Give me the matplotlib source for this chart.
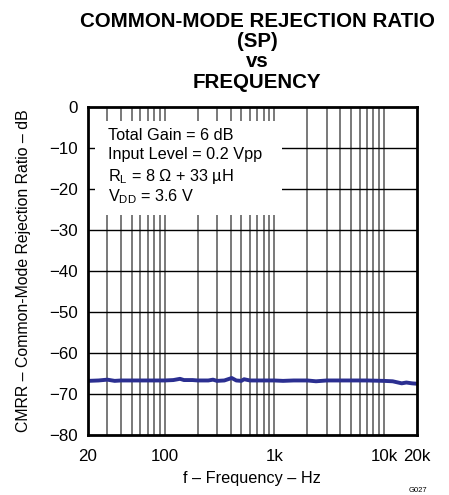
import matplotlib
matplotlib.use("Agg")
import matplotlib.pyplot as plt
from matplotlib.patches import Rectangle
import numpy as np

plt.rcParams['font.family'] = ['Liberation Sans', 'DejaVu Sans']
plt.rcParams['mathtext.fontset'] = 'custom'
plt.rcParams['mathtext.rm'] = 'Liberation Sans'
plt.rcParams['mathtext.it'] = 'Liberation Sans'

freq_hz = [20, 25, 30, 35, 40, 50, 60, 70, 80, 100, 120, 138, 150, 180, 200,
           250, 276, 300, 350, 409, 450, 500, 530, 600, 700, 800, 1000, 1200,
           1500, 2000, 2400, 3000, 4000, 5000, 7000, 10000, 12000, 14500,
           16000, 18000, 20000]
cmrr_db = [-66.8, -66.7, -66.5, -66.8, -66.7, -66.7, -66.7, -66.7, -66.7, -66.7,
           -66.6, -66.3, -66.6, -66.6, -66.7, -66.7, -66.5, -66.8, -66.7, -66.1,
           -66.7, -66.8, -66.4, -66.7, -66.7, -66.7, -66.7, -66.8, -66.7, -66.7,
           -66.9, -66.7, -66.7, -66.7, -66.7, -66.8, -66.9, -67.4, -67.2, -67.4,
           -67.5]

x_ticks = [20, 100, 1000, 10000, 20000]
x_tick_labels = ['20', '100', '1k', '10k', '20k']
y_ticks = [0, -10, -20, -30, -40, -50, -60, -70, -80]
y_tick_labels = ['0', '\u221210', '\u221220', '\u221230', '\u221240', '\u221250',
                 '\u221260', '\u221270', '\u221280']
minor_grid = [30, 40, 50, 60, 70, 80, 90, 200, 300, 400, 500, 600, 700, 800, 900,
              2000, 3000, 4000, 5000, 6000, 7000, 8000, 9000]
major_grid = [100, 1000, 10000]

W, H = 449, 495
fig = plt.figure(figsize=(W / 100, H / 100), dpi=100)
ax = fig.add_axes([88 / W, (H - 435) / H, 329 / W, 328 / H])
ax.set_xscale('log')
ax.set_xlim(20, 20000)
ax.set_ylim(-80, 0)

for f in minor_grid + major_grid:
    ax.axvline(f, color='#626262', lw=1.2, zorder=1)
for yv in y_ticks[1:-1]:
    ax.axhline(yv, color='black', lw=1.0, zorder=1)

# white box behind annotation
ax.add_patch(Rectangle((0.021, 0.671), 0.569, 0.286, transform=ax.transAxes,
                       facecolor='white', edgecolor='none', zorder=2))

ax.plot(freq_hz, cmrr_db, color='#2b2f91', lw=2.8, zorder=3, solid_joinstyle='round')

ax.set_xticks(x_ticks)
ax.set_xticklabels(x_tick_labels)
ax.xaxis.set_minor_locator(matplotlib.ticker.NullLocator())
ax.set_yticks(y_ticks)
ax.set_yticklabels(y_tick_labels)
ax.tick_params(axis='both', length=0, labelsize=12.2)
ax.tick_params(axis='x', pad=10)
ax.tick_params(axis='y', pad=7.2)
for s in ax.spines.values():
    s.set_linewidth(2.0)
    s.set_zorder(4)

fig.text(252 / W, 1 - 478 / H, 'f \u2013 Frequency \u2013 Hz', fontsize=11.7,
         ha='center', va='center')
fig.text(24 / W, 1 - 271 / H, 'CMRR \u2013 Common-Mode Rejection Ratio \u2013 dB',
         fontsize=11.4, ha='center', va='center', rotation=90)

tx = 108 / W
lines = ['Total Gain = 6 dB', 'Input Level = 0.2 Vpp',
         'R$_\\mathregular{L}$ = 8 \u03a9 + 33 \u00b5H',
         'V$_\\mathregular{DD}$ = 3.6 V']
ys = [135, 155, 176, 197]
for t, yy in zip(lines, ys):
    fig.text(tx, 1 - yy / H, t, fontsize=11.7, va='center', ha='left', zorder=5)

fig.text(257 / W, 1 - 12 / H,
         'COMMON-MODE REJECTION RATIO\n(SP)\nvs\nFREQUENCY',
         ha='center', va='top', fontsize=14.8, fontweight='bold', linespacing=1.08)
fig.text(418 / W, 1 - 492 / H, 'G027', fontsize=5.5, ha='center', va='baseline')

fig.savefig('out.png', dpi=100)
